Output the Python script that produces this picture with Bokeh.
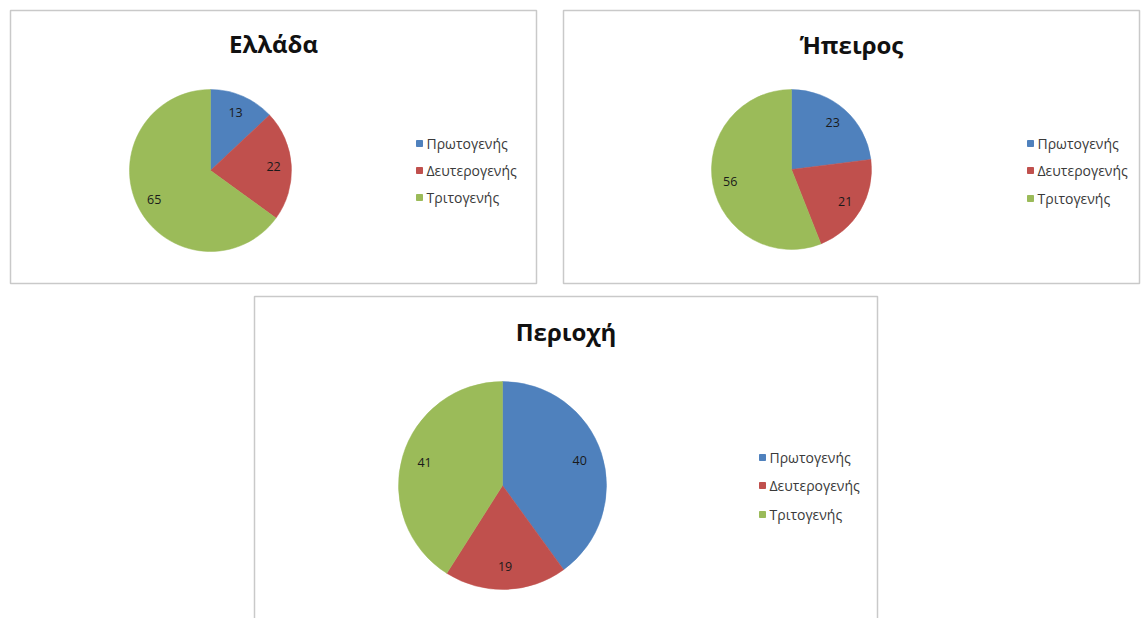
import numpy as np
from bokeh.plotting import figure
from bokeh.models import Range1d, ColumnDataSource
from bokeh.core.properties import value
from bokeh.embed import file_html
from bokeh.resources import INLINE

# ---------------- data ----------------
categories = ["Πρωτογενής", "Δευτερογενής", "Τριτογενής"]
titles = ["Ελλάδα", "Ήπειρος", "Περιοχή"]
ellada = [13, 22, 65]
ipeiros = [23, 21, 56]
periochi = [40, 19, 41]
colors = ["#4F81BD", "#C0504D", "#9BBB59"]
series = [ellada, ipeiros, periochi]

# ---------------- layout (screen px, y measured from top) ----------------
W, H = 1141, 618
FONT = "Open Sans"
panels = [
    dict(box=(10, 10, 536, 283), center=(210, 170), r=81, title_base=43,
         legend_x=416, legend_rows=(143, 170, 197)),
    dict(box=(563, 10, 1139, 283), center=(791, 169), r=80, title_base=44,
         legend_x=1027, legend_rows=(143, 170, 198)),
    dict(box=(254, 296, 877, 660), center=(502, 485), r=104, title_base=331,
         legend_x=759, legend_rows=(457, 485, 514)),
]

p = figure(width=W, height=H, output_backend="svg", toolbar_location=None,
           x_range=Range1d(0, W), y_range=Range1d(0, H),
           x_axis_location=None, y_axis_location=None,
           min_border=0, outline_line_color=None,
           background_fill_color="white", border_fill_color="white")
p.grid.visible = False


def fy(y):
    return H - y


for vals, title, lay in zip(series, titles, panels):
    x0, y0, x1, y1 = lay["box"]
    p.quad(left=[x0], right=[x1], top=[fy(y0)], bottom=[fy(y1)],
           fill_color="white", line_color="#c9c9c9", line_width=1.5)

    total = float(sum(vals))
    fr = np.array(vals, dtype=float) / total
    cum_end = np.cumsum(fr)
    cum_start = cum_end - fr
    cx, cy = lay["center"]
    r = lay["r"]
    src = ColumnDataSource(dict(
        start=np.pi / 2 - 2 * np.pi * cum_end,
        end=np.pi / 2 - 2 * np.pi * cum_start,
        color=colors,
        label=[str(v) for v in vals],
        lx=cx + 0.78 * r * np.cos(np.pi / 2 - 2 * np.pi * (cum_start + fr / 2)),
        ly=fy(cy) + 0.78 * r * np.sin(np.pi / 2 - 2 * np.pi * (cum_start + fr / 2)),
    ))
    p.wedge(x=cx, y=fy(cy), radius=r, start_angle="start", end_angle="end",
            direction="anticlock", fill_color="color", line_color="color",
            line_width=0.5, source=src)
    p.text(x="lx", y="ly", text="label", source=src, text_align="center",
           text_baseline="middle", text_font=value(FONT),
           text_font_size="12.5px", text_color="#1a1a1a")

    # title
    p.text(x=[(x0 + x1) / 2], y=[fy(lay["title_base"])], text=[title],
           text_align="center", text_baseline="alphabetic",
           text_font=value(FONT), text_font_style="bold",
           text_font_size="24px", text_color="#111111")

    # legend
    lx = lay["legend_x"]
    rows = [fy(v) for v in lay["legend_rows"]]
    p.scatter(x=[lx + 3] * 3, y=rows, marker="square", size=6,
              fill_color=colors, line_color=colors)
    p.text(x=[lx + 10] * 3, y=rows, text=categories, text_align="left",
           text_baseline="middle", text_font=value(FONT),
           text_font_size="14px", text_color="#3a3a3a")

open("out.html", "w").write(file_html(p, INLINE))
